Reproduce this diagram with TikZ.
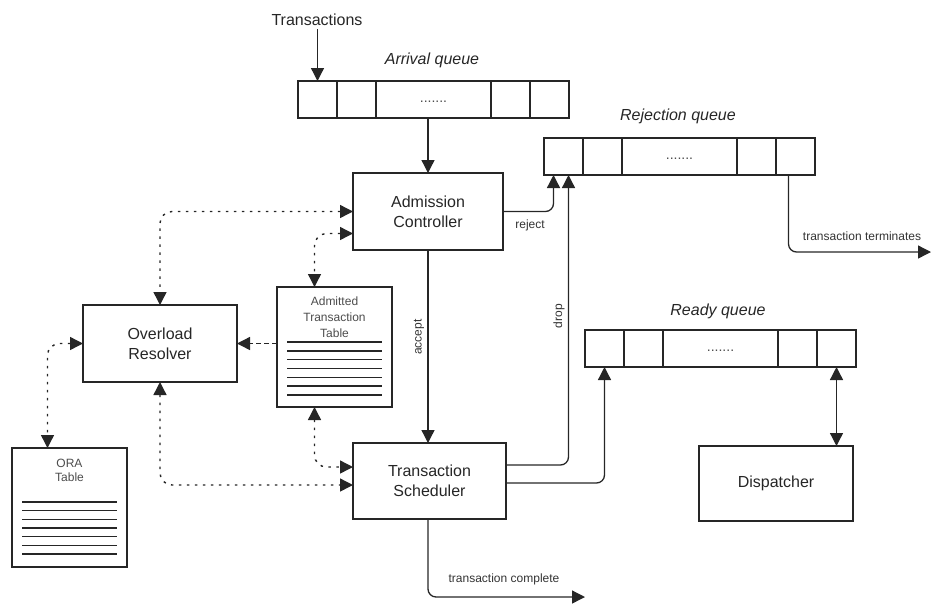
\documentclass[tikz,border=0pt]{standalone}
\usepackage{fontspec}
\setmainfont{Liberation Sans}
\usetikzlibrary{arrows.meta,calc}

% one queue: five cells, the middle one wider and holding the dots
\newcommand\queuerow[3]{%
  \node[cell] (#1-1) at (#2,#3) {};
  \node[cell] (#1-2) at (#1-1.east) {};
  \node[cell,minimum width=115pt,font=\fontsize{14}{18}\selectfont,text=black!70] (#1-3) at (#1-2.east) {\vphantom{Ag}.......};
  \node[cell] (#1-4) at (#1-3.east) {};
  \node[cell] (#1-5) at (#1-4.east) {};
}

\begin{document}
\begin{tikzpicture}[x=1pt,y=-1pt,
  ln/.style={line width=1.3pt,draw=black!85},
  arr/.style={-{Triangle[length=13pt,width=13pt]}},
  darr/.style={{Triangle[length=13pt,width=13pt]}-{Triangle[length=13pt,width=13pt]}},
  dots/.style={line width=1.4pt,draw=black!85,dash pattern=on 2.5pt off 5.5pt,rounded corners=12pt},
  cell/.style={draw=black!85,line width=1.3pt,minimum width=39pt,minimum height=37pt,
    inner sep=0pt,outer sep=0pt,anchor=west,text=black!80},
  box/.style={draw=black!85,line width=1.3pt,inner sep=0pt,outer sep=0pt,align=center,
    text=black!85,font=\fontsize{16}{20}\selectfont},
  tbl/.style={draw=black!85,line width=1.3pt,inner sep=0pt,outer sep=0pt,
    minimum width=115pt,minimum height=119pt},
  tbltext/.style={align=center,text=black!70,inner sep=0pt},
  title/.style={text=black!85,font=\fontsize{16}{20}\selectfont,inner sep=3pt},
  ititle/.style={title,font=\fontsize{16}{20}\selectfont\itshape},
  small/.style={text=black!80,font=\fontsize{12}{14}\selectfont,inner sep=0pt},
  tline/.style={line width=1.4pt,draw=black!85}
]
\useasboundingbox (0,0) rectangle (933,603);

% ---------------- queues ----------------
\queuerow{aq}{298}{99.5}
\queuerow{rq}{544}{156.5}
\queuerow{rdq}{585}{348.5}

\node[title] (tr) at (317,20) {Transactions};
\node[ititle] (aqlbl) at (432,60) {Arrival queue};
\node[ititle] (rqlbl) at (678,116) {Rejection queue};
\node[ititle] (rdqlbl) at (718,311) {Ready queue};

% ---------------- processing boxes ----------------
\node[box,minimum width=150pt,minimum height=77pt] (ac) at (428,211.5) {Admission\\Controller};
\node[box,minimum width=153pt,minimum height=76pt] (ts) at (429.5,481) {Transaction\\Scheduler};
\node[box,minimum width=154pt,minimum height=77pt] (or) at (160,343.5) {Overload\\Resolver};
\node[box,minimum width=154pt,minimum height=75pt] (disp) at (776,483.5) {Dispatcher};

% ---------------- tables ----------------
\node[tbl,minimum height=120pt] (att) at (334.5,347) {};
\node[tbltext,font=\fontsize{12}{16}\selectfont] (atttxt) at (334.5,317) {Admitted\\Transaction\\Table};
\foreach \i in {0,...,6}
  \draw[tline] (287,342+8.8*\i) -- (382,342+8.8*\i);

\node[tbl] (ora) at (69.5,507.5) {};
\node[tbltext,font=\fontsize{12}{14}\selectfont] (oratxt) at (69.5,470) {ORA\\Table};
\foreach \i in {0,...,6}
  \draw[tline] (22,502+8.67*\i) -- (117,502+8.67*\i);

% ---------------- transaction flow ----------------
\draw[ln,arr] (aq-1.north |- tr.south) -- (aq-1.north);
\draw[ln,arr] (ac.north |- aq-3.south) -- (ac.north);
\draw[ln,arr] (ac.south) -- (ac.south |- ts.north);
\node[small,rotate=90] (acclbl) at (419,337) {accept};

\draw[ln,arr,rounded corners=8pt] (ac.east) -| ([xshift=-10pt]rq-1.south);
\node[small] (rejlbl) at (530,225) {reject};

\draw[ln,arr,rounded corners=8pt] ([yshift=16pt]ts.east) -| ([xshift=5pt]rq-1.south);
\node[small,rotate=90] (droplbl) at (559,316) {drop};

\draw[ln,arr,rounded corners=8pt] ([yshift=-2pt]ts.east) -| (rdq-1.south);

\coordinate (term) at (931,252);
\draw[ln,arr,rounded corners=8pt] ([xshift=-7pt]rq-5.south) |- (term);
\node[small] (termlbl) at (862,236) {transaction terminates};

\coordinate (done) at (585,597);
\draw[ln,arr,rounded corners=8pt] (ac.south |- ts.south) |- (done);
\node[small] (donelbl) at (504,579) {transaction complete};

\draw[ln,darr] (rdq-5.south) -- (rdq-5.south |- disp.north);

% ---------------- control information ----------------
\draw[dots,darr] (ac.west) -| (or.north);
\draw[dots,darr] ([yshift=-22pt]ac.west) -| ([xshift=-20pt]att.north);
\draw[ln,line width=1.4pt,dash pattern=on 5pt off 3pt,arr] (att.west |- or.east) -- (or.east);
\draw[dots,darr] (or.west) -| ([xshift=-22pt]ora.north);
\draw[dots,darr] (or.south) |- ([yshift=-4pt]ts.west);
\draw[dots,darr] ([xshift=-20pt]att.south) |- ([yshift=14pt]ts.west);
\end{tikzpicture}
\end{document}
